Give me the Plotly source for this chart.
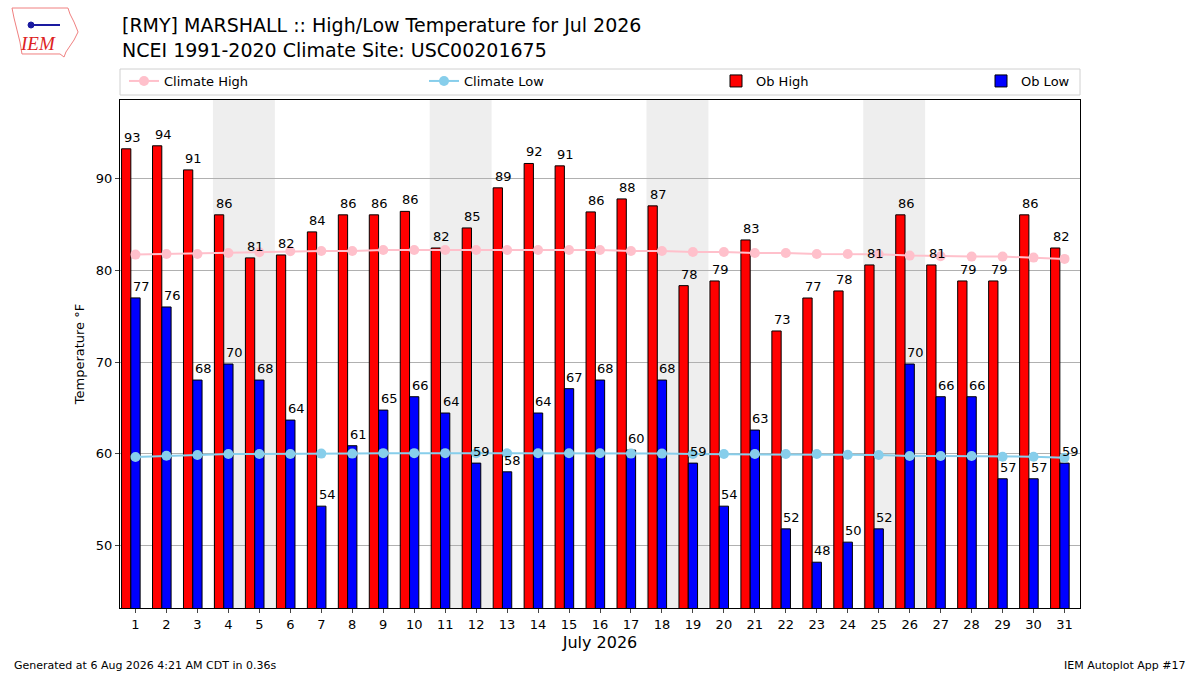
import calendar
import plotly.graph_objects as go

# dias de julio 2026
dias = list(range(1, 32))

ob_high = [93.28, 93.61, 90.98, 86.07, 81.37, 81.69, 84.21, 86.07, 86.07, 86.45,
           82.45, 84.64, 89.02, 91.68, 91.42, 86.39, 87.81, 87.05, 78.34, 78.85,
           83.33, 73.39, 76.99, 77.76, 80.60, 86.07, 80.60, 78.85, 78.85, 86.07,
           82.45]
ob_low = [77.00, 76.01, 68.03, 69.78, 68.03, 63.66, 54.26, 60.86, 64.75, 66.21,
          64.43, 58.96, 58.01, 64.43, 67.09, 68.03, 60.38, 68.03, 58.96, 54.26,
          62.57, 51.78, 48.14, 50.33, 51.78, 69.78, 66.21, 66.21, 57.25, 57.25,
          58.96]

# climatologia NCEI 1991-2020
clim_high = [81.73, 81.80, 81.80, 81.91, 81.99, 82.09, 82.13, 82.13, 82.24, 82.24,
             82.24, 82.24, 82.24, 82.24, 82.24, 82.24, 82.13, 82.13, 82.02, 82.02,
             81.91, 81.91, 81.80, 81.80, 81.77, 81.62, 81.55, 81.51, 81.51, 81.40,
             81.26]
clim_low = [59.62, 59.76, 59.84, 59.95, 59.95, 59.95, 60.00, 60.00, 60.05, 60.05,
            60.05, 60.03, 60.03, 60.03, 60.03, 60.03, 60.00, 60.00, 59.95, 59.95,
            59.95, 59.95, 59.95, 59.87, 59.84, 59.73, 59.73, 59.73, 59.66, 59.66,
            59.55]

# area del grafico en pixeles (izq, der, arriba, abajo)
L, R, T, B = 120, 1080, 100, 608
ANCHO = 0.3  # ancho de barra en dias


def px(xp):
    return (xp - L) / (R - L)


def py(yp):
    return (B - yp) / (B - T)


fig = go.Figure()

fig.add_trace(go.Scatter(x=dias, y=clim_high, name="Climate High", mode="lines+markers",
                         line=dict(color="#ffc0cb", width=2),
                         marker=dict(color="#ffc0cb", size=10), legend="legend"))
fig.add_trace(go.Scatter(x=dias, y=clim_low, name="Climate Low", mode="lines+markers",
                         line=dict(color="#87ceeb", width=2),
                         marker=dict(color="#87ceeb", size=10), legend="legend2"))
fig.add_trace(go.Bar(x=dias, y=ob_high, name="Ob High", width=ANCHO, offset=-1.5 * ANCHO,
                     marker=dict(color="red", line=dict(color="black", width=1)),
                     legend="legend3"))
fig.add_trace(go.Bar(x=dias, y=ob_low, name="Ob Low", width=ANCHO, offset=-0.5 * ANCHO,
                     marker=dict(color="blue", line=dict(color="black", width=1)),
                     legend="legend4"))

# etiquetas encima de las barras
for d, h, l in zip(dias, ob_high, ob_low):
    fig.add_annotation(x=d - 1.5 * ANCHO, y=h, text=str(round(h)), showarrow=False,
                       xanchor="left", yanchor="bottom", yshift=2,
                       font=dict(size=13, color="black"))
    fig.add_annotation(x=d - 0.5 * ANCHO, y=l, text=str(round(l)), showarrow=False,
                       xanchor="left", yanchor="bottom", yshift=2,
                       font=dict(size=13, color="black"))

# fines de semana sombreados
for d in dias:
    if calendar.weekday(2026, 7, d) == 5:
        fig.add_shape(type="rect", xref="x", yref="paper", x0=d - 0.5, x1=d + 1.5,
                      y0=0, y1=1, fillcolor="#eeeeee", line=dict(width=0), layer="between")

# caja de la leyenda
fig.add_shape(type="rect", xref="paper", yref="paper", x0=0, x1=1, y0=py(95), y1=py(69),
              line=dict(color="#d0d0d0", width=1), fillcolor="white", layer="below")

# contorno del logo (aprox.)
contorno = [(12, 8), (68, 8), (70, 14), (74, 22), (78, 32), (74, 40), (70, 46),
            (66, 52), (64, 57), (60, 54), (22, 54), (20, 42), (17, 30), (14, 18)]
path = "M " + " L ".join(f"{px(a):.4f} {py(b):.4f}" for a, b in contorno) + " Z"
fig.add_shape(type="path", xref="paper", yref="paper", path=path,
              line=dict(color="#f08080", width=1), fillcolor="white", layer="below")
fig.add_shape(type="line", xref="paper", yref="paper", x0=px(30), x1=px(60),
              y0=py(25), y1=py(25), line=dict(color="#1a1aa0", width=2))
fig.add_shape(type="circle", xref="paper", yref="paper", x0=px(28), x1=px(34),
              y0=py(28), y1=py(22), line=dict(color="#1a1aa0", width=1), fillcolor="#1a1aa0")

ymin = min(ob_low) - 5
ymax = max(ob_high) + 5

leg = dict(orientation="h", yanchor="middle", y=py(81), xanchor="left",
           bgcolor="rgba(0,0,0,0)", borderwidth=0, font=dict(size=13))

fig.update_layout(
    width=1200, height=675,
    margin=dict(l=L, r=1200 - R, t=T, b=675 - B),
    plot_bgcolor="white", paper_bgcolor="white",
    font=dict(family="DejaVu Sans", size=13, color="black"),
    barmode="overlay",
    showlegend=True,
    legend=dict(leg, x=px(124)),
    legend2=dict(leg, x=px(424)),
    legend3=dict(leg, x=px(716)),
    legend4=dict(leg, x=px(981)),
)

fig.update_xaxes(range=[0.5, 31.5], tickmode="array", tickvals=dias,
                 ticktext=[str(d) for d in dias], ticks="outside", ticklen=4,
                 showline=True, linecolor="black", mirror=True, showgrid=False,
                 title=dict(text="July 2026", font=dict(size=16), standoff=6),
                 tickfont=dict(size=13))
fig.update_yaxes(range=[ymin, ymax], tickvals=[50, 60, 70, 80, 90], ticks="outside",
                 ticklen=4, showline=True, linecolor="black", mirror=True,
                 showgrid=True, gridcolor="#b0b0b0", gridwidth=1, zeroline=False,
                 title=dict(text="Temperature °F", font=dict(size=13), standoff=8),
                 tickfont=dict(size=13))

# titulo en dos lineas
fig.add_annotation(xref="paper", yref="paper", x=0, y=py(12),
                   text="[RMY] MARSHALL :: High/Low Temperature for Jul 2026<br>NCEI 1991-2020 Climate Site: USC00201675",
                   showarrow=False, xanchor="left", yanchor="top", align="left",
                   font=dict(size=19, color="black"))

# texto del logo
fig.add_annotation(xref="paper", yref="paper", x=px(38), y=py(44),
                   xanchor="center", yanchor="middle", showarrow=False, text="<i>IEM</i>",
                   font=dict(family="Liberation Serif", size=19, color="#dd2222"))

# pie de pagina
fig.add_annotation(xref="paper", yref="paper", x=px(12), y=py(665),
                   xanchor="left", yanchor="middle", showarrow=False,
                   text="Generated at 6 Aug 2026 4:21 AM CDT in 0.36s",
                   font=dict(size=11, color="black"))
fig.add_annotation(xref="paper", yref="paper", x=px(1188), y=py(665),
                   xanchor="right", yanchor="middle", showarrow=False,
                   text="IEM Autoplot App #17",
                   font=dict(size=11, color="black"))

fig.write_html("out.html", config={"displayModeBar": False},
               post_script="document.body.style.margin='0';")
